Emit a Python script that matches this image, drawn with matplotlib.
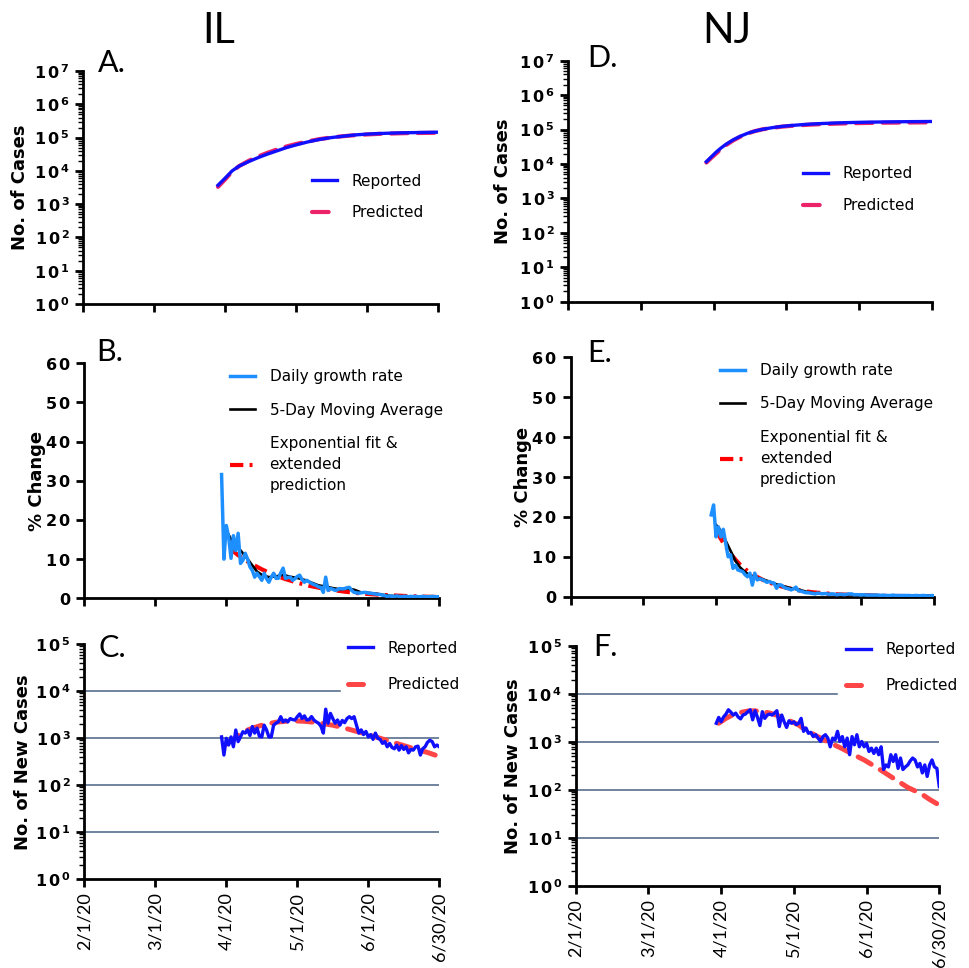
import numpy as np
import matplotlib.pyplot as plt
from matplotlib.ticker import LogLocator, FuncFormatter, NullFormatter

# ---- data (x = days after 2/1/20) ----
tick_days = [0, 30, 60, 90, 120, 150]
tick_labels = ["2/1/20", "3/1/20", "4/1/20", "5/1/20", "6/1/20", "6/30/20"]
daily_days = np.arange(58, 151)

# cumulative cases (A, D)
cum_days = [57, 60, 63, 66, 70, 74, 78, 82, 86, 90, 95, 100, 105, 110, 115, 120, 125, 130, 135, 140, 145, 150]
il_cum_reported = [3700, 6000, 10000, 14000, 19000, 25000, 32000, 40000, 50000, 60000, 74000, 88000,
                   100000, 110000, 120000, 127000, 132000, 136000, 139000, 141000, 143000, 145000]
il_cum_predicted = [3300, 5500, 9500, 14000, 20000, 27000, 35000, 44000, 54000, 64000, 77000, 90000,
                    101000, 110000, 118000, 124000, 129000, 132000, 135000, 137000, 138000, 139000]
nj_cum_days = [57, 59, 61, 63, 65, 68, 71, 74, 77, 80, 84, 88, 92, 96, 100, 105, 110, 115, 120, 125, 130, 135, 140, 145, 150]
nj_cum_reported = [11700, 16000, 22000, 29000, 37000, 50000, 64000, 78000, 90000, 101000, 113000, 123000,
                   131000, 138000, 144000, 150000, 155000, 159000, 162000, 164500, 166500, 168000,
                   169500, 170500, 171500]
nj_cum_predicted = [11000, 15000, 20000, 27000, 35000, 48000, 62000, 77000, 90000, 101000, 112000, 121000,
                    128000, 134000, 139000, 144000, 148000, 151000, 154000, 156000, 158000, 159000,
                    160000, 161000, 161500]

# daily growth rate, % (B, E)
il_growth = [31.6, 10.0, 18.6, 15.6, 10.2, 16.0, 12.2, 16.6, 8.9, 9.7,
             11.5, 10.0, 8.0, 7.1, 5.4, 6.4, 5.5, 4.6, 6.4, 5.0,
             4.1, 5.4, 6.4, 5.1, 5.1, 6.5, 7.7, 5.1, 5.3, 5.4,
             4.6, 5.0, 5.6, 5.9, 4.8, 4.1, 4.6, 4.2, 3.8, 3.5,
             3.3, 2.9, 2.8, 1.5, 5.4, 2.0, 2.5, 2.3, 2.0, 2.2,
             2.5, 2.4, 2.5, 2.7, 2.8, 2.0, 1.5, 1.4, 1.3, 1.4,
             1.5, 1.5, 1.3, 1.3, 1.2, 1.1, 1.0, 1.0, 0.8, 0.7,
             0.5, 0.6, 0.5, 0.5, 0.6, 0.5, 0.4, 0.5, 0.5, 0.4,
             0.5, 0.4, 0.5, 0.4, 0.4, 0.5, 0.4, 0.4, 0.4, 0.5,
             0.4, 0.4, 0.4]
nj_growth = [20.5, 23.0, 15.0, 17.5, 15.0, 16.9, 13.4, 10.0, 10.5, 7.1,
             7.9, 6.7, 6.5, 6.3, 5.5, 5.0, 5.9, 2.9, 5.9, 4.2,
             4.5, 4.3, 4.0, 3.6, 3.8, 3.5, 3.4, 2.1, 3.0, 2.9,
             2.4, 2.1, 2.0, 1.7, 2.0, 2.4, 1.5, 1.4, 1.2, 1.0,
             1.0, 0.9, 0.8, 0.7, 0.9, 0.8, 0.7, 0.8, 0.7, 0.6,
             0.7, 0.6, 0.5, 0.6, 0.6, 0.5, 0.6, 0.7, 0.7, 0.5,
             0.5, 0.5, 0.4, 0.5, 0.4, 0.4, 0.4, 0.4, 0.4, 0.4,
             0.3, 0.4, 0.3, 0.3, 0.3, 0.4, 0.3, 0.3, 0.3, 0.3,
             0.3, 0.3, 0.3, 0.2, 0.3, 0.3, 0.2, 0.3, 0.3, 0.2,
             0.2, 0.3, 0.2]

il_ma_days = [61, 63, 65, 67, 69, 71, 73, 75, 78, 81, 84, 87, 90, 93, 96, 99, 102, 105, 108, 111,
              114, 117, 120, 124, 128, 132, 136, 140, 145, 150]
il_ma = [16.2, 14.0, 13.0, 11.5, 10.0, 8.4, 6.8, 6.0, 5.4, 5.6, 6.0, 5.5, 5.2, 4.7, 4.0, 3.3, 3.0,
         2.6, 2.3, 2.5, 2.2, 1.5, 1.4, 1.1, 0.7, 0.55, 0.5, 0.45, 0.42, 0.4]
nj_ma_days = [60, 62, 64, 66, 68, 70, 72, 74, 76, 79, 82, 85, 88, 91, 94, 97, 100, 105, 110, 115,
              120, 130, 140, 150]
nj_ma = [18.0, 16.5, 14.0, 11.5, 9.0, 7.3, 6.2, 5.3, 4.9, 4.4, 3.8, 3.1, 2.6, 2.1, 1.8, 1.3, 0.9,
         0.75, 0.6, 0.6, 0.45, 0.35, 0.28, 0.25]

il_fit_days = [62, 65, 70, 75, 80, 85, 90, 95, 100, 105, 110, 115, 120, 125, 130, 135, 140, 145, 150]
il_fit = [12.5, 11.0, 9.0, 7.4, 6.0, 4.9, 4.0, 3.2, 2.6, 2.1, 1.7, 1.35, 1.1, 0.9, 0.75, 0.6, 0.5, 0.4, 0.33]
nj_fit_days = [60, 62, 64, 66, 68, 70, 72, 75, 80, 85, 90, 95, 100, 110, 120, 130, 140, 150]
nj_fit = [16.5, 14.5, 12.5, 10.8, 9.3, 8.0, 6.9, 5.6, 4.0, 2.9, 2.1, 1.5, 1.1, 0.6, 0.35, 0.2, 0.15, 0.1]

# new cases per day (C, F)
il_new = [1070, 440, 1000, 720, 1070, 660, 1500, 850, 1070, 1380,
          1290, 1510, 1150, 1780, 1290, 1650, 1100, 1070, 1900, 1510,
          1070, 1070, 1900, 2100, 2240, 2880, 2240, 2450, 2240, 2630,
          2500, 2450, 2880, 3300, 2630, 3000, 2450, 2500, 2900, 2450,
          2240, 2090, 1800, 1290, 4170, 2090, 3390, 2630, 2090, 2450,
          1900, 2400, 2150, 2630, 2880, 2630, 2880, 1900, 1290, 1510,
          1200, 1400, 1070, 1200, 950, 1290, 1000, 950, 780, 850,
          660, 780, 640, 600, 720, 560, 700, 580, 660, 490,
          580, 560, 660, 680, 440, 600, 660, 820, 910, 850,
          660, 720, 660]
nj_new = [2450, 3240, 2630, 3310, 3800, 4680, 4170, 3630, 3980, 3310,
          3020, 3630, 3800, 4270, 4680, 2880, 4470, 3240, 2190, 4270,
          3090, 3630, 3800, 3630, 3980, 4470, 2090, 3630, 2630, 2000,
          2750, 2450, 2630, 2290, 2450, 3090, 1660, 1950, 1510, 1580,
          1290, 1410, 1200, 1020, 1290, 1410, 1200, 790, 1200, 1100,
          1660, 1020, 1290, 790, 1200, 540, 1290, 870, 1410, 790,
          1020, 790, 930, 630, 740, 575, 740, 540, 790, 265,
          330, 300, 540, 390, 540, 280, 460, 265, 300, 330,
          400, 460, 420, 300, 355, 225, 330, 190, 330, 420,
          300, 280, 117]

il_pred_days = [60, 63, 66, 69, 72, 75, 78, 81, 85, 89, 93, 97, 101, 105, 109, 113, 117, 121, 125,
                129, 133, 137, 141, 145, 150]
il_pred = [750, 950, 1250, 1500, 1700, 1900, 2050, 2200, 2300, 2350, 2300, 2200, 2050, 1900, 1700,
           1500, 1320, 1150, 1000, 870, 750, 650, 570, 500, 410]
nj_pred_days = [59, 62, 65, 68, 71, 74, 77, 80, 83, 86, 89, 92, 95, 98, 101, 104, 107, 110, 113, 116,
                119, 122, 125, 128, 131, 134, 137, 140, 143, 146, 150]
nj_pred = [2450, 3100, 3700, 4100, 4400, 4450, 4300, 4000, 3600, 3100, 2650, 2250, 1750, 1450, 1200,
           1000, 850, 720, 600, 500, 420, 340, 275, 220, 175, 140, 112, 95, 80, 63, 48]

guide_levels = [10, 100, 1000, 10000]

# ---- colours ----
blue = "#1010ff"
light_blue = "#1e8fff"
pink = "#ec2369"
coral = "#ff4646"
red = "#ff0000"
guide = "#4a6282"

plt.rcParams["font.family"] = "DejaVu Sans"
plt.rcParams["mathtext.fontset"] = "dejavusans"

fig = plt.figure(figsize=(9.69, 9.68), dpi=100)
W, H = 969.0, 968.0


def make_axes(x0, x1, y_top, y_bottom):
    return fig.add_axes([x0 / W, 1 - y_bottom / H, (x1 - x0) / W, (y_bottom - y_top) / H])


def log_label(v, pos):
    return r"$\mathbf{1\,0^{\,%d}}$" % int(round(np.log10(v)))


def lin_label(v, pos):
    s = "%d" % v
    return r"$\mathbf{" + r"\,".join(s) + "}$"


def style(ax, logy, show_dates):
    for s in ["top", "right"]:
        ax.spines[s].set_visible(False)
    for s in ["left", "bottom"]:
        ax.spines[s].set_linewidth(2.0)
    ax.set_xlim(0, 150)
    ax.set_xticks(tick_days)
    ax.tick_params(axis="both", which="major", direction="out", length=6, width=2.0)
    ax.tick_params(axis="y", labelsize=11.5)
    ax.tick_params(axis="x", which="minor", bottom=False)
    if show_dates:
        ax.set_xticklabels(tick_labels, rotation=90, fontsize=13, family="Lato")
    else:
        ax.set_xticklabels([])
    if logy:
        ax.set_yscale("log")
        ax.yaxis.set_major_locator(LogLocator(base=10, numticks=20))
        ax.yaxis.set_minor_locator(LogLocator(base=10, subs=np.arange(2, 10), numticks=200))
        ax.yaxis.set_major_formatter(FuncFormatter(log_label))
        ax.yaxis.set_minor_formatter(NullFormatter())
        ax.tick_params(axis="y", which="minor", direction="out", length=3.5, width=1.0)
    else:
        ax.yaxis.set_major_formatter(FuncFormatter(lin_label))


def ylab(ax, text, xpos):
    ax.set_ylabel(text, fontsize=13, fontweight="bold", va="center")
    ax.yaxis.set_label_coords(xpos, 0.5)


def legend(ax, handles, labels, x, y, spacing):
    leg = ax.legend(handles, labels, loc="upper left", bbox_to_anchor=(x, y), frameon=False,
                    fontsize=11, handlelength=1.65, handletextpad=0.95, borderpad=0,
                    borderaxespad=0, labelspacing=spacing)
    for t in leg.get_texts():
        t.set_linespacing(1.5)
    return leg


# ---- A / D : cumulative cases ----
for (x0, x1, yt, yb), days, rep, pred, lx, ly in [
        ((83.3, 437.7, 71, 304), cum_days, il_cum_reported, il_cum_predicted, 0.645, 0.56),
        ((568.3, 931.7, 60.7, 301.7), nj_cum_days, nj_cum_reported, nj_cum_predicted, 0.646, 0.561)]:
    ax = make_axes(x0, x1, yt, yb)
    ax.plot(days, rep, color=blue, lw=2.4, label="Reported", zorder=3)
    ax.plot(days, pred, color=pink, lw=3.0, dashes=(4, 2.4), dash_capstyle="round",
            label="Predicted", zorder=2)
    ax.set_ylim(1, 1e7)
    style(ax, True, False)
    ylab(ax, "No. of Cases", -0.18)
    h, l = ax.get_legend_handles_labels()
    legend(ax, h, l, lx, ly, 1.1)

# ---- B / E : growth rates ----
for (x0, x1, yt, yb), gr, mad, ma, fd, fit, lx, ly in [
        ((84.3, 439.3, 363.3, 598.3), il_growth, il_ma_days, il_ma, il_fit_days, il_fit, 0.41, 0.975),
        ((570.7, 934.0, 357.3, 596.7), nj_growth, nj_ma_days, nj_ma, nj_fit_days, nj_fit, 0.411, 0.976)]:
    ax = make_axes(x0, x1, yt, yb)
    ax.plot(daily_days, gr, color=light_blue, lw=2.5, label="Daily growth rate", zorder=4)
    ax.plot(mad, ma, color="black", lw=1.9, label="5-Day Moving Average", zorder=3)
    ax.plot(fd, fit, color=red, lw=3.0, dashes=(3.2, 1.5, 0.7, 1.5),
            label="Exponential fit &\nextended\nprediction", zorder=2)
    ax.set_ylim(0, 60)
    ax.set_yticks([0, 10, 20, 30, 40, 50, 60])
    style(ax, False, False)
    ylab(ax, "% Change", -0.132)
    h, l = ax.get_legend_handles_labels()
    legend(ax, h, l, lx, ly, 1.2)

# ---- C / F : new cases ----
for (x0, x1, yt, yb), new, pdays, pred, lx, ly in [
        ((84.3, 439.3, 644.3, 879.3), il_new, il_pred_days, il_pred, 0.743, 1.015),
        ((575.7, 939.3, 646.0, 885.7), nj_new, nj_pred_days, nj_pred, 0.743, 1.017)]:
    ax = make_axes(x0, x1, yt, yb)
    for lvl in guide_levels:
        ax.axhline(lvl, xmin=0, xmax=0.72 if lvl == 10000 else 1.0, color=guide, lw=1.1, zorder=1)
    ax.plot(pdays, pred, color=coral, lw=3.6, dashes=(3, 2.1), dash_capstyle="round",
            label="Predicted", zorder=2)
    ax.plot(daily_days, new, color=blue, lw=2.4, label="Reported", zorder=3)
    ax.set_ylim(1, 1e5)
    style(ax, True, True)
    ylab(ax, "No. of New Cases", -0.173)
    h, l = ax.get_legend_handles_labels()
    legend(ax, h[::-1], l[::-1], lx, ly, 1.4)

# ---- titles and panel letters ----
fig.text(219 / W, 1 - 43 / H, "IL", fontsize=30, family="Lato", ha="center", va="baseline")
fig.text(727 / W, 1 - 43 / H, "NJ", fontsize=30, family="Lato", ha="center", va="baseline")
for letter, px, py in [("A.", 98, 72), ("B.", 96, 361), ("C.", 99, 657),
                       ("D.", 587, 67), ("E.", 587, 362), ("F.", 593, 656)]:
    fig.text(px / W, 1 - py / H, letter, fontsize=22, family="Lato", ha="left", va="baseline")

fig.savefig("out.png", dpi=100)
